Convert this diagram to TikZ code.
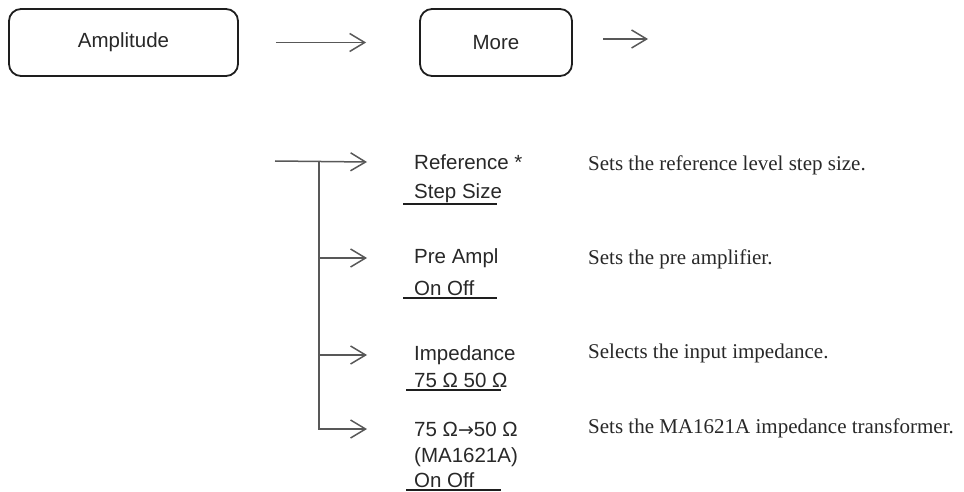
\documentclass[tikz,border=0pt]{standalone}
\usepackage{fontspec}
\setmainfont{Liberation Serif}
\setsansfont{Liberation Sans}
\newfontfamily\arrowfont{DejaVu Sans}
\usepackage{tikz}
\usetikzlibrary{arrows.meta,positioning,calc}
\definecolor{inkline}{RGB}{88,88,88}
\definecolor{inktext}{RGB}{40,40,40}
\definecolor{inkbox}{RGB}{30,30,30}

\begin{document}
\begin{tikzpicture}[x=1pt, y=-1pt,
    every node/.style={font=\sffamily\fontsize{20.5}{24}\selectfont, text=inktext, inner sep=0pt},
    keybox/.style={draw=inkbox, line width=1.8pt, rounded corners=12pt, minimum height=67pt},
    softkey/.style={anchor=west},
    descr/.style={anchor=west, font=\rmfamily\fontsize{21}{25}\selectfont},
    flow/.style={draw=inkline, line width=1.5pt, -{Straight Barb[length=15pt,width=18pt,line width=1.5pt]}},
    uline/.style={draw=inkbox, line width=1.8pt}]
    \useasboundingbox (0,0) rectangle (964,492);

    % Top row
    \node[keybox, minimum width=229pt] (amp) at (123.5,42.5) {Amplitude};
    \node[keybox, minimum width=152pt] (more) at (496,42.5) {More};
    \coordinate (next0) at (603,39);
    \coordinate (next1) at (648,39);

    % Soft keys
    \node[softkey] (ref) at (414,162) {Reference *};
    \node[softkey] (refstep) at (414,193) {Step Size};
    \node[softkey] (pre) at (414,258) {Pre Ampl};
    \node[softkey] (preonoff) at (414,288) {On Off};
    \node[softkey] (imp) at (414,355) {Impedance};
    \node[softkey] (impsel) at (414,380) {75 Ω 50 Ω};
    \node[softkey] (xfm) at (414,429) {75 Ω{\arrowfont\fontsize{19}{24}\selectfont →}50 Ω};
    \node[softkey] (xfmmodel) at (414,457) {(MA1621A)};
    \node[softkey] (xfmonoff) at (414,480) {On Off};

    % Underlines
    \draw[uline] (403,204) -- (497,204);
    \draw[uline] (403,298) -- (497,298);
    \draw[uline] (406,390) -- (501,390);
    \draw[uline] (406,490) -- (501,490);

    % Descriptions
    \node[descr] (refdesc) at (588,165) {Sets the reference level step size.};
    \node[descr] (predesc) at (588,259) {Sets the pre amplifier.};
    \node[descr] (impdesc) at (588,353) {Selects the input impedance.};
    \node[descr] (xfmdesc) at (588,428) {Sets the MA1621A impedance transformer.};

    % Edges
    \coordinate (tail) at (275,161);
    \coordinate (fork) at (319,161);
    \draw[flow] ([xshift=37pt]amp.east) -- ([xshift=-53pt]more.west);
    \draw[flow] (next0) -- (next1);
    \draw[flow] (tail) -- ([xshift=-47pt]ref.west);
    \draw[flow] (fork |- pre.west) -- ([xshift=-47pt]pre.west);
    \draw[flow] (fork |- imp.west) -- ([xshift=-47pt]imp.west);
    \draw[flow] (fork) |- ([xshift=-47pt]xfm.west);
\end{tikzpicture}
\end{document}
